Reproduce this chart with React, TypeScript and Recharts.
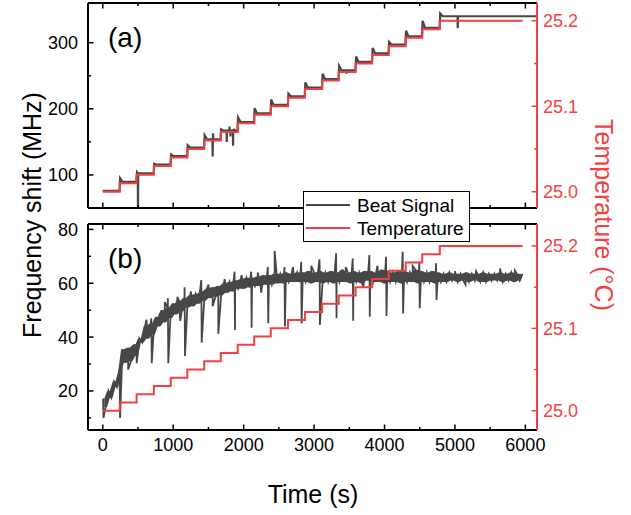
import React from 'react';
import { ComposedChart, Line, Area, XAxis, YAxis } from 'recharts';

const RED = '#f23f3f';
const GRAY = '#474747';
const FONT = '"Liberation Sans", Arial, sans-serif';

// temperature set-point steps
const stepTimes = [0, 240, 480, 725, 965, 1200, 1440, 1675, 1915, 2150, 2385, 2630, 2870, 3115, 3350, 3590, 3825, 4060, 4300, 4535, 4785];
const tempLevels = [25.0, 25.01, 25.02, 25.03, 25.04, 25.05, 25.06, 25.07, 25.08, 25.09, 25.1, 25.11, 25.12, 25.13, 25.14, 25.15, 25.16, 25.17, 25.18, 25.19, 25.2];
const tempEnd = 5960;

// (a) frequency shift plateaus and the overshoot right after each step (MHz)
const shiftLevels = [76, 89.5, 102.5, 115.5, 128.5, 141.5, 154, 167, 180, 193, 206, 219, 232, 245, 258, 271, 284, 297, 309.5, 322.5, 340];
const shiftPeaks = [76, 95, 104, 117, 131, 145, 160, 169, 187, 201, 214, 223, 240, 253, 265, 279, 292, 301, 318, 333, 344];
const glitchTimes = [500, 1560, 1566, 1760, 1800, 1812, 1850, 1862, 3460, 5040];
const glitchValues = [40, 128, 163, 150, 173, 158, 144, 170, 253, 322];
const shiftEnd = 6150;

// (b) beat signal, sampled every 40 s from t = 0
const beatSignal = [
  17, 14, 20, 17.5, 23.5, 21.5, 27.5, 35.5, 30.5, 36,
  31, 37, 33, 39.5, 38, 44, 39.5, 45, 41, 47.5,
  44, 50, 45.5, 51, 47, 52.5, 48.5, 53.5, 49.5, 54.5,
  51, 55.5, 51.5, 56, 52.5, 57, 53.5, 58, 54.5, 58.5,
  55, 59, 55.5, 60, 56.5, 60.5, 57, 61, 58, 61.5,
  58, 62, 58.5, 62, 59, 62.5, 59, 63, 59.5, 63,
  59.5, 63.5, 60, 63.5, 60, 64, 60.5, 63.5, 60.5, 64,
  60.5, 64, 60.5, 64.5, 60, 64, 60.5, 64.5, 60, 64,
  60.5, 64.5, 60, 64, 60.5, 65, 60.5, 64, 60, 64.5,
  60.5, 64, 60, 64.5, 61, 64.5, 60.5, 64, 60.5, 65,
  60, 64.5, 60.5, 64, 60.5, 64.5, 60, 64.5, 60.5, 64,
  60.5, 65, 60, 64.5, 60.5, 64, 60.5, 64.5, 60, 64,
  60.5, 63.5, 60.5, 64, 61, 63.5, 60.5, 63.5, 61, 64,
  60.5, 63.5, 61, 63.5, 60.5, 64, 60.5, 63.5, 61, 63.5,
  61, 64, 60.5, 63.5, 61, 64, 60.5, 63.5, 61, 63.5,
];
const spikeTimes = [10, 245, 482, 695, 930, 1167, 1404, 1640, 1877, 2113, 2349, 2586, 2823, 3082, 3319, 3555, 3791, 4028, 4264, 4500, 4738];
const spikeUp = [17, 28, 37, 47, 54.4, 58.5, 61.2, 58, 64.3, 64.3, 66, 66, 68, 68.9, 71.1, 69.2, 70.5, 69.8, 71.7, 68, 67.4];
const spikeDown = [10, 10, 30.3, 30.3, 30.3, 33, 37.9, 41.2, 42.6, 43.5, 45.1, 43.9, 45.1, 44.5, 47, 46.1, 47.6, 47.8, 48.8, 50.7, 53.8];
// isolated excursions of the trace between steps
const burstTimes = [360, 620, 880, 1060, 1100, 1250, 1500, 1560, 1730, 1970, 2200, 2250, 2440, 2700, 2960, 3450, 3700, 3900, 4400, 5000, 5150, 5300, 5640, 5850];
const burstValues = [28, 46.5, 53, 55, 46, 57, 59.5, 51.5, 61.5, 63, 64, 56.5, 72, 66, 66.5, 66, 58.5, 66.5, 66.5, 64.5, 59.5, 64.5, 65.5, 64.8];

const xTicks = [0, 500, 1000, 1500, 2000, 2500, 3000, 3500, 4000, 4500, 5000, 5500, 6000];
const aTicks = [100, 150, 200, 250, 300];
const bTicks = [10, 20, 30, 40, 50, 60, 70, 80];
const tempTicks = [25.0, 25.05, 25.1, 25.15, 25.2];

const levelAt = (t: number) => {
  let k = 0;
  stepTimes.forEach((s, i) => { if (s <= t) k = i; });
  return shiftLevels[k];
};

const tempData = stepTimes.map((t, k) => ({ t, T: tempLevels[k] })).concat([{ t: tempEnd, T: tempLevels[tempLevels.length - 1] }]);

const shiftData: { t: number; v: number }[] = [{ t: 0, v: shiftLevels[0] }];
stepTimes.forEach((T, k) => {
  if (k === 0) return;
  shiftData.push({ t: T - 2, v: shiftLevels[k - 1] }, { t: T + 6, v: shiftPeaks[k] }, { t: T + 40, v: shiftLevels[k] });
});
glitchTimes.forEach((g, i) => {
  shiftData.push({ t: g - 3, v: levelAt(g) }, { t: g, v: glitchValues[i] }, { t: g + 3, v: levelAt(g) });
});
shiftData.push({ t: shiftEnd, v: shiftLevels[shiftLevels.length - 1] });
shiftData.sort((p, q) => p.t - q.t);

const beatData: { t: number; v: number }[] = beatSignal.map((v, i) => ({ t: i * 40, v }));
spikeTimes.forEach((t, i) => {
  beatData.push({ t: t - 6, v: spikeUp[i] }, { t, v: spikeDown[i] });
});
burstTimes.forEach((t, i) => beatData.push({ t, v: burstValues[i] }));
beatData.sort((p, q) => p.t - q.t);

// envelope of the noisy trace, from neighbouring samples
const beatBand = beatSignal.slice(1).map((v, i) => ({
  t: i * 40 + 20,
  band: [Math.min(v, beatSignal[i]), Math.max(v, beatSignal[i])],
}));

const isMajorX = (v: number) => v % 1000 === 0;

const XTick = ({ x, y, payload, side, labels }: any) => {
  const major = isMajorX(payload.value);
  const len = major ? 5.5 : 3;
  const dir = side === 'bottom' ? -1 : 1;
  return (
    <g>
      <line x1={x} x2={x} y1={y} y2={y + dir * len} stroke="#000" strokeWidth={1.5} />
      {labels && major && (
        <text x={x} y={y + 21} textAnchor="middle" fontSize={18} fontFamily={FONT} fill="#000">
          {payload.value}
        </text>
      )}
    </g>
  );
};

const YTick = ({ x, y, payload, side, major, color, fmt }: any) => {
  const isMaj = major(payload.value);
  const len = isMaj ? 5.5 : 3;
  const dir = side === 'left' ? 1 : -1;
  return (
    <g>
      <line x1={x} x2={x + dir * len} y1={y} y2={y} stroke={color} strokeWidth={1.5} />
      {isMaj && (
        <text
          x={side === 'left' ? x - 10 : x + 6}
          y={y}
          dy="0.36em"
          textAnchor={side === 'left' ? 'end' : 'start'}
          fontSize={18}
          fontFamily={FONT}
          fill={color}
        >
          {fmt(payload.value)}
        </text>
      )}
    </g>
  );
};

const xDomain = [-210, 6165];
const axisBlack = { stroke: '#000', strokeWidth: 2 };
const axisRed = { stroke: RED, strokeWidth: 2 };
const majorA = (v: number) => v % 100 === 0;
const majorB = (v: number) => v % 20 === 0;
const majorT = (v: number) => Math.round(v * 100) % 10 === 0;

const Panel = ({ height, bottomH, leftDomain, leftTicks, leftMajor, tempDomain, gray, grayWidth, band, showXLabels }: any) => (
  <ComposedChart width={631} height={height} margin={{ top: 0, right: 0, bottom: 0, left: 0 }}>
    <XAxis
      xAxisId="b"
      dataKey="t"
      type="number"
      orientation="bottom"
      domain={xDomain}
      allowDataOverflow
      ticks={xTicks}
      interval={0}
      height={bottomH}
      tickSize={0}
      tickMargin={0}
      tickLine={false}
      axisLine={axisBlack}
      tick={<XTick side="bottom" labels={showXLabels} />}
    />
    <XAxis
      xAxisId="t"
      dataKey="t"
      type="number"
      orientation="top"
      domain={xDomain}
      allowDataOverflow
      ticks={xTicks}
      interval={0}
      height={3}
      tickSize={0}
      tickMargin={0}
      tickLine={false}
      axisLine={axisBlack}
      tick={<XTick side="top" labels={false} />}
    />
    <YAxis
      yAxisId="l"
      orientation="left"
      type="number"
      width={88}
      domain={leftDomain}
      allowDataOverflow
      ticks={leftTicks}
      interval={0}
      tickSize={0}
      tickMargin={0}
      tickLine={false}
      axisLine={axisBlack}
      tick={<YTick side="left" major={leftMajor} color="#000" fmt={(v: number) => String(v)} />}
    />
    <YAxis
      yAxisId="r"
      orientation="right"
      type="number"
      width={94}
      domain={tempDomain}
      allowDataOverflow
      ticks={tempTicks}
      interval={0}
      tickSize={0}
      tickMargin={0}
      tickLine={false}
      axisLine={axisRed}
      tick={<YTick side="right" major={majorT} color={RED} fmt={(v: number) => v.toFixed(1)} />}
    />
    {band && (
      <Area
        xAxisId="b"
        yAxisId="l"
        data={band}
        dataKey="band"
        type="linear"
        stroke="none"
        fill={GRAY}
        fillOpacity={1}
        dot={false}
        activeDot={false}
        isAnimationActive={false}
      />
    )}
    <Line
      xAxisId="b"
      yAxisId="l"
      data={gray}
      dataKey="v"
      type="linear"
      stroke={GRAY}
      strokeWidth={grayWidth}
      dot={false}
      isAnimationActive={false}
    />
    <Line
      xAxisId="b"
      yAxisId="r"
      data={tempData}
      dataKey="T"
      type="stepAfter"
      stroke={RED}
      strokeWidth={2}
      dot={false}
      isAnimationActive={false}
    />
  </ComposedChart>
);

export default function App() {
  return (
    <div style={{ position: 'absolute', left: 0, top: 0, width: 631, height: 515, background: '#fff', fontFamily: FONT }}>
      <div style={{ position: 'absolute', left: 0, top: 0 }}>
        <Panel
          height={212}
          bottomH={4}
          leftDomain={[50, 360]}
          leftTicks={aTicks}
          leftMajor={majorA}
          tempDomain={[24.981, 25.2207]}
          gray={shiftData}
          grayWidth={2.2}
          showXLabels={false}
        />
      </div>
      <div style={{ position: 'absolute', left: 0, top: 221 }}>
        <Panel
          height={294}
          bottomH={85}
          leftDomain={[5.5, 82]}
          leftTicks={bTicks}
          leftMajor={majorB}
          tempDomain={[24.9766, 25.2267]}
          gray={beatData}
          grayWidth={1.8}
          band={beatBand}
          showXLabels
        />
      </div>
      <svg width={631} height={515} style={{ position: 'absolute', left: 0, top: 0, pointerEvents: 'none' }} fontFamily={FONT}>
        <text x={108} y={47} fontSize={28} fill="#000">(a)</text>
        <text x={108} y={268} fontSize={28} fill="#000">(b)</text>
        <text transform="translate(41,215) rotate(-90)" textAnchor="middle" fontSize={25} fill="#000">
          Frequency shift (MHz)
        </text>
        <text transform="translate(595,215) rotate(90)" textAnchor="middle" fontSize={25} fill={RED}>
          Temperature (°C)
        </text>
        <text x={313} y={503} textAnchor="middle" fontSize={25} fill="#000">Time (s)</text>
        <rect x={303.5} y={191.5} width={166} height={50} fill="#fff" stroke="#000" strokeWidth={1} />
        <line x1={306} x2={350} y1={205} y2={205} stroke={GRAY} strokeWidth={2} />
        <text x={357} y={212} fontSize={19} fill="#000">Beat Signal</text>
        <line x1={306} x2={350} y1={228} y2={228} stroke={RED} strokeWidth={2} />
        <text x={357} y={235} fontSize={19} fill="#000">Temperature</text>
      </svg>
    </div>
  );
}
